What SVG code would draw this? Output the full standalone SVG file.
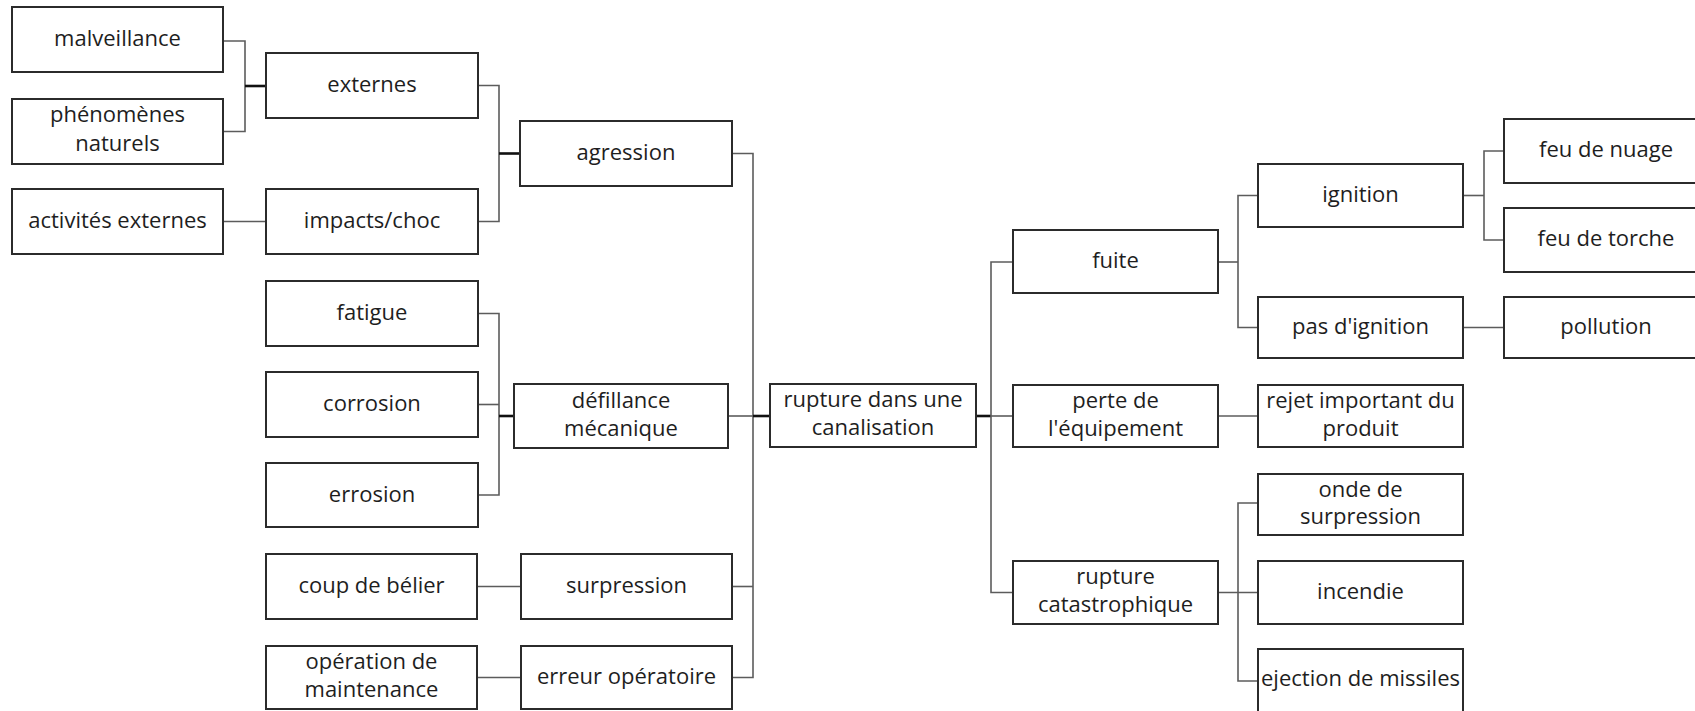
<svg xmlns="http://www.w3.org/2000/svg" width="1695" height="711" viewBox="0 0 1695 711">
  <style>
    .box rect { fill: #ffffff; stroke: #2b2b2b; stroke-width: 2; }
    .box text { font-family: "Open Sans", "Liberation Sans", sans-serif; font-size: 22px; fill: #1e1e1e; text-anchor: middle; }
    .link { fill: none; stroke: #5c5c5c; stroke-width: 1.6; }
    .stub { fill: none; stroke: #111111; stroke-width: 2.6; }
  </style>
  <rect width="1695" height="711" fill="#ffffff"/>

  <!-- connectors -->
  <g id="connectors">
    <path class="link" d="M223,41 H245 V131.5 H223"/>
    <path class="stub" d="M245,86 H266"/>
    <path class="link" d="M223,221.5 H266"/>
    <path class="link" d="M478,85.5 H499 V221.5 H478"/>
    <path class="stub" d="M499,153.5 H520"/>
    <path class="link" d="M478,313.5 H499 V495 H478"/>
    <path class="link" d="M478,404.5 H499"/>
    <path class="stub" d="M499,416 H514"/>
    <path class="link" d="M477,586.5 H521"/>
    <path class="link" d="M477,677.5 H521"/>
    <path class="link" d="M732,153.5 H753 V677.5 H732"/>
    <path class="link" d="M732,586.5 H753"/>
    <path class="link" d="M728,416 H753"/>
    <path class="stub" d="M753,416 H770"/>
    <path class="stub" d="M976,416 H991"/>
    <path class="link" d="M1013,262 H991 V592.5 H1013"/>
    <path class="link" d="M991,416 H1013"/>
    <path class="link" d="M1218,262 H1238"/>
    <path class="link" d="M1258,195.5 H1238 V327.5 H1258"/>
    <path class="link" d="M1463,195.5 H1484"/>
    <path class="link" d="M1504,151 H1484 V240 H1504"/>
    <path class="link" d="M1463,327.5 H1504"/>
    <path class="link" d="M1218,416 H1258"/>
    <path class="link" d="M1218,592.5 H1258"/>
    <path class="link" d="M1258,503 H1238 V681 H1258"/>
  </g>

  <!-- causes, left side -->
  <g id="malveillance" class="box"><rect x="12" y="7" width="211" height="65"/><text x="117.5" y="46">malveillance</text></g>
  <g id="phenomenes-naturels" class="box"><rect x="12" y="99" width="211" height="65"/><text x="117.5" y="122">phénomènes</text><text x="117.5" y="150.5">naturels</text></g>
  <g id="activites-externes" class="box"><rect x="12" y="189" width="211" height="65"/><text x="117.5" y="228">activités externes</text></g>
  <g id="externes" class="box"><rect x="266" y="53" width="212" height="65"/><text x="372" y="92">externes</text></g>
  <g id="impacts-choc" class="box"><rect x="266" y="189" width="212" height="65"/><text x="372" y="228">impacts/choc</text></g>
  <g id="fatigue" class="box"><rect x="266" y="281" width="212" height="65"/><text x="372" y="320">fatigue</text></g>
  <g id="corrosion" class="box"><rect x="266" y="372" width="212" height="65"/><text x="372" y="411">corrosion</text></g>
  <g id="errosion" class="box"><rect x="266" y="463" width="212" height="64"/><text x="372" y="501.5">errosion</text></g>
  <g id="coup-de-belier" class="box"><rect x="266" y="554" width="211" height="65"/><text x="371.5" y="593">coup de bélier</text></g>
  <g id="operation-maintenance" class="box"><rect x="266" y="646" width="211" height="63"/><text x="371.5" y="669">opération de</text><text x="371.5" y="697">maintenance</text></g>
  <g id="agression" class="box"><rect x="520" y="121" width="212" height="65"/><text x="626" y="160">agression</text></g>
  <g id="defillance-mecanique" class="box"><rect x="514" y="384" width="214" height="64"/><text x="621" y="407.5">défillance</text><text x="621" y="436">mécanique</text></g>
  <g id="surpression" class="box"><rect x="521" y="554" width="211" height="65"/><text x="626.5" y="593">surpression</text></g>
  <g id="erreur-operatoire" class="box"><rect x="521" y="646" width="211" height="63"/><text x="626.5" y="684">erreur opératoire</text></g>

  <!-- central event -->
  <g id="rupture-canalisation" class="box"><rect x="770" y="384" width="206" height="63"/><text x="873" y="407">rupture dans une</text><text x="873" y="435">canalisation</text></g>

  <!-- consequences, right side -->
  <g id="fuite" class="box"><rect x="1013" y="230" width="205" height="63"/><text x="1115.5" y="267.5">fuite</text></g>
  <g id="perte-equipement" class="box"><rect x="1013" y="385" width="205" height="62"/><text x="1115.5" y="408">perte de</text><text x="1115.5" y="436">l'équipement</text></g>
  <g id="rupture-catastrophique" class="box"><rect x="1013" y="561" width="205" height="63"/><text x="1115.5" y="584">rupture</text><text x="1115.5" y="612">catastrophique</text></g>
  <g id="ignition" class="box"><rect x="1258" y="164" width="205" height="63"/><text x="1360.5" y="201.5">ignition</text></g>
  <g id="pas-ignition" class="box"><rect x="1258" y="297" width="205" height="61"/><text x="1360.5" y="333.5">pas d'ignition</text></g>
  <g id="rejet-produit" class="box"><rect x="1258" y="385" width="205" height="62"/><text x="1360.5" y="408">rejet important du</text><text x="1360.5" y="436">produit</text></g>
  <g id="onde-surpression" class="box"><rect x="1258" y="474" width="205" height="61"/><text x="1360.5" y="496.5">onde de</text><text x="1360.5" y="524">surpression</text></g>
  <g id="incendie" class="box"><rect x="1258" y="561" width="205" height="63"/><text x="1360.5" y="599">incendie</text></g>
  <g id="ejection-missiles" class="box"><rect x="1258" y="649" width="205" height="70"/><text x="1360.5" y="686">ejection de missiles</text></g>
  <g id="feu-nuage" class="box"><rect x="1504" y="119" width="204" height="64"/><text x="1606" y="157">feu de nuage</text></g>
  <g id="feu-torche" class="box"><rect x="1504" y="208" width="204" height="64"/><text x="1606" y="246">feu de torche</text></g>
  <g id="pollution" class="box"><rect x="1504" y="297" width="204" height="61"/><text x="1606" y="333.5">pollution</text></g>
</svg>
